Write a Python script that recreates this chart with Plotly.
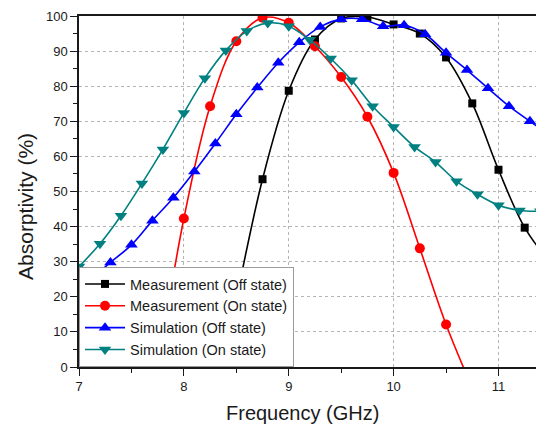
import plotly.graph_objects as go

# Measurement (Off state)
meas_off_x = [8.5, 8.75, 9.0, 9.25, 9.5, 9.75, 10.0, 10.25, 10.5, 10.75, 11.0, 11.25, 11.5]
meas_off_y = [19.0, 53.5, 78.7, 93.3, 99.3, 99.7, 97.6, 95.0, 88.2, 75.1, 56.2, 39.7, 29.5]

# Measurement (On state)
meas_on_x = [7.75, 8.0, 8.25, 8.5, 8.75, 9.0, 9.25, 9.5, 9.75, 10.0, 10.25, 10.5, 10.75]
meas_on_y = [-1.0, 42.3, 74.3, 92.8, 99.5, 98.1, 91.4, 82.6, 71.3, 55.3, 33.8, 12.1, -6.0]

# Simulation (Off state)
sim_off_x = [6.9, 7.1, 7.3, 7.5, 7.7, 7.9, 8.1, 8.3, 8.5, 8.7, 8.9, 9.1, 9.3, 9.5, 9.7,
             9.9, 10.1, 10.3, 10.5, 10.7, 10.9, 11.1, 11.3, 11.5]
sim_off_y = [20.5, 24.7, 29.8, 34.8, 41.7, 48.2, 55.7, 63.7, 72.0, 79.6, 86.7, 92.5, 96.9, 99.1, 99.1,
             97.1, 97.4, 94.8, 89.5, 84.6, 79.4, 74.3, 70.0, 65.8]

# Simulation (On state)
sim_on_x = [7.0, 7.2, 7.4, 7.6, 7.8, 8.0, 8.2, 8.4, 8.6, 8.8, 9.0, 9.2, 9.4, 9.6, 9.8,
            10.0, 10.2, 10.4, 10.6, 10.8, 11.0, 11.2, 11.4]
sim_on_y = [28.6, 35.1, 43.1, 52.3, 62.0, 72.4, 82.3, 90.2, 95.7, 98.0, 97.1, 93.2, 87.9, 81.7, 74.3,
            68.4, 62.7, 58.4, 52.9, 49.2, 46.1, 44.6, 44.4]

x_ticks = [7, 8, 9, 10, 11]
y_ticks = [0, 10, 20, 30, 40, 50, 60, 70, 80, 90, 100]

FONT = "Arial, Liberation Sans, sans-serif"

series = [
    ("Measurement (Off state)", meas_off_x, meas_off_y, "#000000", "square", 8),
    ("Measurement (On state)", meas_on_x, meas_on_y, "#ff0000", "circle", 10),
    ("Simulation (Off state)", sim_off_x, sim_off_y, "#0000ff", "triangle-up", 11),
    ("Simulation (On state)", sim_on_x, sim_on_y, "#008080", "triangle-down", 11),
]

fig = go.Figure()
for name, xs, ys, col, sym, sz in series:
    fig.add_trace(go.Scatter(
        x=xs, y=ys, name=name, mode="lines+markers",
        line=dict(color=col, width=1.6, shape="spline", smoothing=1),
        marker=dict(color=col, symbol=sym, size=sz, line=dict(width=0)),
    ))

axis_common = dict(
    showline=True, linecolor="#1a1a1a", linewidth=1.5,
    ticks="outside", ticklen=7, tickwidth=1.2, tickcolor="#1a1a1a",
    showgrid=True, gridcolor="#b4b4b4", gridwidth=1, griddash="dot",
    zeroline=False, automargin=False,
    tickfont=dict(family=FONT, size=13, color="#1a1a1a"),
)

fig.update_xaxes(
    range=[7, 11.434], tickvals=x_ticks, ticktext=[str(v) for v in x_ticks],
    mirror=True,
    minor=dict(dtick=0.5, tick0=7, ticks="outside", ticklen=4, tickcolor="#1a1a1a", showgrid=False),
    **axis_common,
)
fig.update_yaxes(
    range=[0, 100], tickvals=y_ticks, ticktext=[str(v) for v in y_ticks],
    mirror=False,
    minor=dict(dtick=5, tick0=0, ticks="outside", ticklen=4, tickcolor="#1a1a1a", showgrid=False),
    **axis_common,
)

fig.add_annotation(text="Frequency (GHz)", xref="paper", yref="paper",
                   x=0.4796, y=-0.13, xanchor="center", yanchor="middle",
                   showarrow=False, font=dict(family=FONT, size=20, color="#1a1a1a"))
fig.add_annotation(text="Absorptivity (%)", xref="paper", yref="paper",
                   x=-0.114, y=0.4587, xanchor="center", yanchor="middle", textangle=-90,
                   showarrow=False, font=dict(family=FONT, size=21, color="#1a1a1a"))

# page body has an 8px margin, so the figure is sized/offset to land on the 544x426 window
fig.update_layout(
    template="none",
    width=536, height=418,
    margin=dict(l=71, r=0, t=8, b=59, autoexpand=False),
    paper_bgcolor="white", plot_bgcolor="white",
    showlegend=True,
    legend=dict(x=0, y=0, xanchor="left", yanchor="bottom",
                bgcolor="white", bordercolor="#9a9a9a", borderwidth=1,
                font=dict(family=FONT, size=14.5, color="#1a1a1a"),
                itemwidth=40, tracegroupgap=0),
)

fig.write_html("out.html")
